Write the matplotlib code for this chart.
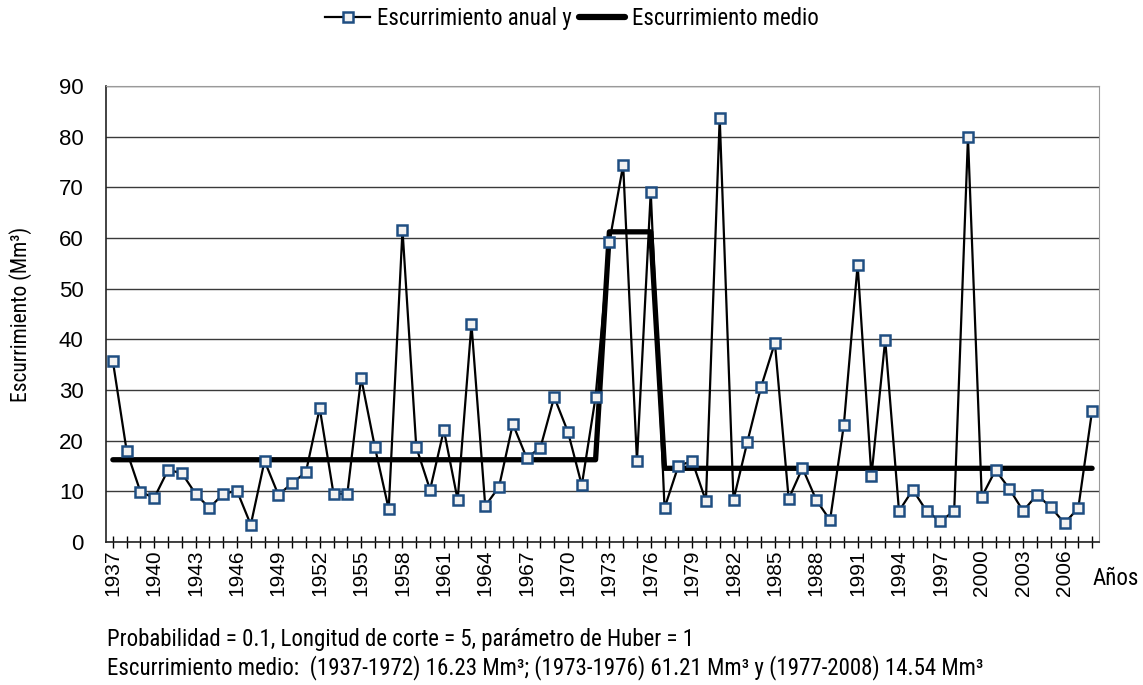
import numpy as np
import matplotlib
matplotlib.use("Agg")
import matplotlib.pyplot as plt
from matplotlib.lines import Line2D

years = list(range(1937, 2009))
escurrimiento = [35.7, 18.0, 9.9, 8.7, 14.2, 13.6, 9.5, 6.7, 9.5, 10.1,
                 3.4, 16.0, 9.3, 11.6, 13.8, 26.4, 9.5, 9.5, 32.4, 18.7,
                 6.5, 61.6, 18.7, 10.3, 22.1, 8.3, 43.0, 7.1, 10.9, 23.3,
                 16.6, 18.6, 28.6, 21.7, 11.2, 28.6, 59.2, 74.4, 16.0, 69.1,
                 6.7, 15.0, 16.0, 8.1, 83.7, 8.3, 19.7, 30.6, 39.3, 8.5,
                 14.6, 8.3, 4.3, 23.1, 54.7, 13.0, 39.9, 6.1, 10.3, 6.1,
                 4.1, 6.1, 79.9, 8.9, 14.2, 10.5, 6.1, 9.3, 6.9, 3.7,
                 6.7, 25.9]
periodos = [(1937, 1972, 16.23), (1973, 1976, 61.21), (1977, 2008, 14.54)]
medio = [m for (a, b, m) in periodos for _ in range(a, b + 1)]
tick_years = list(range(1937, 2008, 3))

narrow = ["Roboto Condensed", "DejaVu Sans"]
plt.rcParams['font.family'] = ["Liberation Sans", "DejaVu Sans"]

fig = plt.figure(figsize=(11.43, 6.85), dpi=100)
ax = fig.add_axes([0.0927, 0.2088, 0.8688, 0.6657])

ax.plot(years, medio, color='black', linewidth=3.8, solid_capstyle='round', zorder=2)
ax.plot(years, escurrimiento, color='black', linewidth=1.6, marker='s', markersize=7.5,
        markerfacecolor='#f2f2f2', markeredgecolor='#1f4e82', markeredgewidth=1.8, zorder=3)

ax.set_xlim(1936.5, 2008.5)
ax.set_ylim(0, 90)
ax.set_yticks(range(0, 91, 10))
ax.set_xticks(years, minor=True)
ax.set_xticks(tick_years)
ax.set_xticklabels([str(y) for y in tick_years], rotation=90)
ax.tick_params(axis='x', which='both', direction='inout', length=9, width=1, labelsize=15, pad=1)
ax.tick_params(axis='y', length=0, labelsize=16, pad=16)
ax.yaxis.grid(True, color='#3a3a3a', linewidth=1)
ax.set_axisbelow(True)
for s in ['left', 'bottom']:
    ax.spines[s].set_color('#222222')
    ax.spines[s].set_linewidth(1.2)
for s in ['top', 'right']:
    ax.spines[s].set_color('#9a9a9a')

ax.set_ylabel("Escurrimiento (Mm³)", fontsize=15.5, family=narrow)
ax.yaxis.set_label_coords(-0.0745, 0.5)
fig.text(0.976, 0.155, "Años", fontsize=16.5, family=narrow, ha='center', va='center')

handles = [Line2D([], [], color='black', linewidth=1.6, marker='s', markersize=7,
                  markerfacecolor='#f2f2f2', markeredgecolor='#1f4e82', markeredgewidth=1.8),
           Line2D([], [], color='black', linewidth=4.5, solid_capstyle='round')]
fig.legend(handles, ["Escurrimiento anual y", "Escurrimiento medio"], loc='center',
           bbox_to_anchor=(0.5, 0.973), ncol=2, frameon=False, handlelength=2.0,
           handletextpad=0.3, columnspacing=0.3, prop={'family': narrow, 'size': 16.5})

fig.text(0.0935, 0.067, "Probabilidad = 0.1, Longitud de corte = 5, parámetro de Huber = 1",
         fontsize=16.5, family=narrow, va='center')
fig.text(0.0935, 0.025, "Escurrimiento medio:  (1937-1972) 16.23 Mm³; (1973-1976) 61.21 Mm³ y (1977-2008) 14.54 Mm³",
         fontsize=16.5, family=narrow, va='center')

fig.savefig("out.png", dpi=100)
